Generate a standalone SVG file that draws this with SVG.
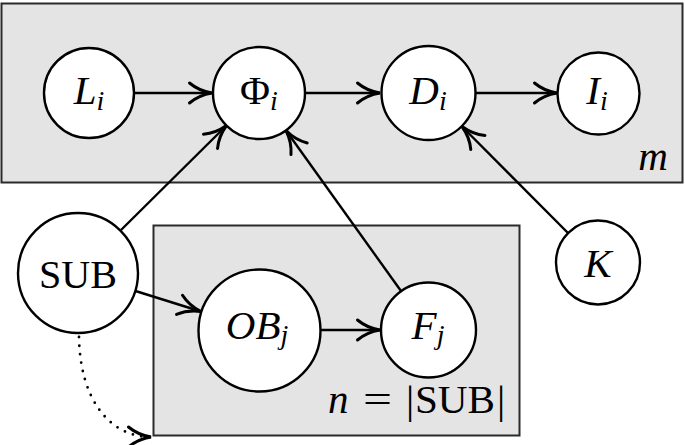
<svg xmlns="http://www.w3.org/2000/svg" width="685" height="445" viewBox="0 0 685 445">
<defs>
<style>
.plate{fill:#e4e4e4;stroke:#2a2a2a;stroke-width:2}
.node{fill:#fff;stroke:#000;stroke-width:2.4}
.edge{fill:none;stroke:#000;stroke-width:2.4;marker-end:url(#arr)}
.dot{fill:none;stroke:#000;stroke-width:2.8;stroke-linecap:round;stroke-dasharray:0 8.5;marker-end:url(#arr)}
.lbl{font-family:"Liberation Serif","DejaVu Serif",serif;font-size:41px;fill:#000;text-anchor:middle}
.st{text-anchor:start}
.it{font-style:italic}
.sub{font-size:28px;font-style:italic}
</style>
<marker id="arr" markerUnits="userSpaceOnUse" markerWidth="30" markerHeight="30" viewBox="-20 -10 24 20" refX="0" refY="0" orient="auto" overflow="visible">
<path d="M-18,-8 C-12,-3 -5,-0.8 0,0 C-5,0.8 -12,3 -18,8" fill="none" stroke="#000" stroke-width="2.4" stroke-linecap="round"/>
</marker>
</defs>
<g id="plate-m">
<rect class="plate" x="1.5" y="3.5" width="681" height="179"/>
<text class="lbl it" x="653" y="170">m</text>
</g>
<g id="plate-n">
<rect class="plate" x="153.5" y="225.5" width="366" height="210"/>
<text class="lbl st it" x="328" y="413">n</text>
<text class="lbl st" x="363" y="413" textLength="29" lengthAdjust="spacingAndGlyphs">=</text>
<text class="lbl" x="410" y="413">|</text>
<text class="lbl st" x="415" y="413" textLength="80" lengthAdjust="spacingAndGlyphs">SUB</text>
<text class="lbl" x="501" y="413">|</text>
</g>
<g id="connectors">
<line class="edge" x1="134" y1="93" x2="212" y2="93"/>
<line class="edge" x1="305" y1="93" x2="380" y2="93"/>
<line class="edge" x1="476" y1="93" x2="557" y2="93"/>
<line class="edge" x1="121" y1="230" x2="226.5" y2="125.5"/>
<line class="edge" x1="401" y1="291" x2="286" y2="130.5"/>
<line class="edge" x1="568" y1="233" x2="462" y2="126.5"/>
<line class="edge" x1="135.5" y1="291" x2="201" y2="311.5"/>
<line class="edge" x1="321" y1="330" x2="380" y2="330"/>
<path class="dot" d="M79,337 C80,400 110,437 151,437"/>
</g>
<g id="node-L"><circle class="node" cx="89" cy="93" r="45"/><text class="lbl" x="89" y="104"><tspan class="it">L</tspan><tspan class="sub" dy="6">i</tspan></text></g>
<g id="node-Phi"><circle class="node" cx="259" cy="93" r="46"/><text class="lbl" x="259" y="104">Φ<tspan class="sub" dy="6">i</tspan></text></g>
<g id="node-D"><circle class="node" cx="428.5" cy="93" r="47"/><text class="lbl" x="428" y="104"><tspan class="it">D</tspan><tspan class="sub" dy="6">i</tspan></text></g>
<g id="node-I"><circle class="node" cx="598.5" cy="93.5" r="41"/><text class="lbl" x="597" y="104"><tspan class="it">I</tspan><tspan class="sub" dy="6">i</tspan></text></g>
<g id="node-SUB"><circle class="node" cx="78" cy="273" r="60"/><text class="lbl" x="78" y="288" textLength="78" lengthAdjust="spacingAndGlyphs">SUB</text></g>
<g id="node-OB"><circle class="node" cx="259.5" cy="330.5" r="61"/><text class="lbl" x="257" y="339"><tspan class="it">OB</tspan><tspan class="sub" dy="5">j</tspan></text></g>
<g id="node-F"><circle class="node" cx="428.5" cy="330" r="47.5"/><text class="lbl" x="428" y="339"><tspan class="it">F</tspan><tspan class="sub" dy="5">j</tspan></text></g>
<g id="node-K"><circle class="node" cx="598" cy="262.5" r="42"/><text class="lbl it" x="598" y="277">K</text></g>
</svg>
